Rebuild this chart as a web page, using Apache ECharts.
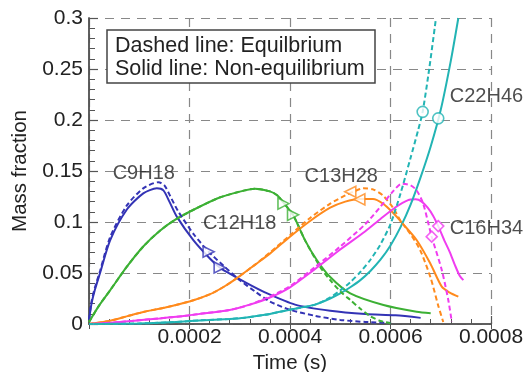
<!DOCTYPE html>
<html>
<head>
<meta charset="utf-8">
<script src="https://cdn.jsdelivr.net/npm/echarts@6/dist/echarts.min.js"></script>
<style>
  html, body {margin: 0; padding: 0; background: #fff;}
  #chart {width: 531px; height: 372px;}
</style>
</head>
<body>
<div id="chart"></div>
<script>
// time (s) vs mass fraction
const c9h18Solid = [[0, 0.004], [0.000005, 0.02], [0.000012, 0.034], [0.000022, 0.05], [0.000042, 0.082], [0.000075, 0.112], [0.000108, 0.128], [0.000135, 0.133], [0.000148, 0.131], [0.00016, 0.12], [0.000175, 0.105], [0.000208, 0.082], [0.000241, 0.064], [0.00026, 0.0554], [0.000274, 0.051], [0.000314, 0.04], [0.00035, 0.031], [0.00041, 0.019], [0.00048, 0.013], [0.00055, 0.0098], [0.00061, 0.0085], [0.00066, 0.006]];
const c9h18Dashed = [[0, 0.004], [0.000005, 0.022], [0.000012, 0.036], [0.000022, 0.052], [0.000042, 0.085], [0.000075, 0.116], [0.000108, 0.133], [0.000138, 0.139], [0.00015, 0.136], [0.000162, 0.125], [0.000178, 0.11], [0.00021, 0.087], [0.000238, 0.0709], [0.00027, 0.056], [0.0003, 0.043], [0.00033, 0.032], [0.00036, 0.022], [0.0004, 0.014], [0.00045, 0.008], [0.0005, 0.004], [0.00055, 0.002], [0.0006, 0.001]];

const c12h18Solid = [[0, 0.002], [0.00002, 0.018], [0.000042, 0.033], [0.000075, 0.056], [0.000108, 0.076], [0.00014, 0.091], [0.000171, 0.102], [0.000208, 0.112], [0.00026, 0.124], [0.00031, 0.131], [0.00033, 0.1325], [0.00036, 0.13], [0.000375, 0.126], [0.000387, 0.119], [0.000406, 0.107], [0.00043, 0.082], [0.000453, 0.063], [0.00048, 0.046], [0.00052, 0.03], [0.000586, 0.0186], [0.000652, 0.012], [0.00068, 0.0105]];
const c12h18Dashed = [[0, 0.002], [0.00002, 0.018], [0.000042, 0.033], [0.000075, 0.056], [0.000108, 0.076], [0.00014, 0.091], [0.000171, 0.102], [0.000208, 0.112], [0.00026, 0.124], [0.00031, 0.131], [0.00033, 0.1325], [0.00036, 0.13], [0.000375, 0.126], [0.000387, 0.119], [0.000406, 0.107], [0.00043, 0.082], [0.00046, 0.056], [0.00048, 0.043], [0.0005, 0.032], [0.00052, 0.0235], [0.00054, 0.015], [0.00056, 0.0075], [0.00058, 0.003], [0.0006, 0.0007]];

const c13h28Solid = [[0, 0], [0.00004, 0.003], [0.000075, 0.0075], [0.00011, 0.012], [0.00015, 0.016], [0.0002, 0.022], [0.00024, 0.029], [0.00027, 0.037], [0.0003, 0.047], [0.00033, 0.058], [0.00036, 0.069], [0.0004, 0.0856], [0.00044, 0.101], [0.00048, 0.114], [0.00051, 0.12], [0.000538, 0.1225], [0.000565, 0.1225], [0.000585, 0.118], [0.000605, 0.109], [0.000625, 0.098], [0.000652, 0.0823], [0.000679, 0.0595], [0.000702, 0.0366], [0.000718, 0.0307], [0.000735, 0.0268]];
const c13h28Dashed = [[0, 0], [0.00004, 0.003], [0.000075, 0.0075], [0.00011, 0.012], [0.00015, 0.016], [0.0002, 0.022], [0.00024, 0.029], [0.00027, 0.037], [0.0003, 0.047], [0.00033, 0.058], [0.00036, 0.07], [0.0004, 0.087], [0.00044, 0.104], [0.00048, 0.118], [0.00051, 0.126], [0.00053, 0.1305], [0.000546, 0.133], [0.000565, 0.132], [0.000585, 0.126], [0.000605, 0.114], [0.000619, 0.102], [0.00064, 0.088], [0.000659, 0.0725], [0.00068, 0.045], [0.000695, 0.018], [0.000705, 0.002]];

const c16h34Solid = [[0, 0], [0.00005, 0.0015], [0.00009, 0.0033], [0.00014, 0.0055], [0.000192, 0.008], [0.00023, 0.0105], [0.00028, 0.0137], [0.00032, 0.019], [0.00036, 0.026], [0.0004, 0.036], [0.00045, 0.054], [0.0005, 0.073], [0.00055, 0.091], [0.00058, 0.103], [0.00061, 0.1145], [0.000635, 0.1215], [0.00065, 0.1222], [0.000662, 0.12], [0.000674, 0.114], [0.000685, 0.106], [0.000695, 0.096], [0.000708, 0.081], [0.000718, 0.0705], [0.000728, 0.058], [0.000738, 0.047], [0.000745, 0.043]];
const c16h34Dashed = [[0, 0], [0.00005, 0.0015], [0.00009, 0.0033], [0.00014, 0.0055], [0.000192, 0.008], [0.00023, 0.0105], [0.00028, 0.0137], [0.00032, 0.019], [0.00036, 0.027], [0.0004, 0.037], [0.00045, 0.056], [0.0005, 0.076], [0.00055, 0.098], [0.00058, 0.115], [0.000605, 0.13], [0.000622, 0.1375], [0.00064, 0.136], [0.000652, 0.131], [0.000665, 0.118], [0.000682, 0.0856], [0.000702, 0.053], [0.000715, 0.0235], [0.000722, 0.002]];

const c22h46Solid = [[0, 0], [0.0001, 0.0005], [0.00016, 0.0016], [0.00022, 0.0035], [0.00028, 0.005], [0.00031, 0.0062], [0.00035, 0.009], [0.00038, 0.012], [0.00041, 0.015], [0.00045, 0.019], [0.00048, 0.025], [0.0005, 0.03], [0.00052, 0.036], [0.00054, 0.043], [0.00056, 0.052], [0.00058, 0.063], [0.0006, 0.077], [0.00062, 0.095], [0.00064, 0.117], [0.00066, 0.144], [0.00068, 0.174], [0.0007, 0.21], [0.00072, 0.258], [0.000735, 0.3]];
const c22h46Dashed = [[0, 0], [0.0001, 0.0005], [0.00016, 0.0016], [0.00022, 0.0035], [0.00028, 0.005], [0.00031, 0.0062], [0.00035, 0.009], [0.00038, 0.012], [0.00041, 0.015], [0.00045, 0.019], [0.00048, 0.026], [0.0005, 0.033], [0.00052, 0.041], [0.00054, 0.051], [0.00056, 0.063], [0.00058, 0.078], [0.0006, 0.098], [0.00062, 0.128], [0.00064, 0.163], [0.000655, 0.19], [0.000664, 0.208], [0.000677, 0.25], [0.00069, 0.298]];

// open symbols drawn on each curve: [solid, dashed]
const c9h18Marks = [[0.00026, 0.0554], [0.000238, 0.0709]];
const c12h18Marks = [[0.000406, 0.107], [0.000387, 0.118]];
const c13h28Marks = [[0.000538, 0.1222], [0.00052, 0.1297]];
const c16h34Marks = [[0.000695, 0.096], [0.000682, 0.0856]];
const c22h46Marks = [[0.000695, 0.2016], [0.000664, 0.208]];

const speciesNames = ['C9H18', 'C12H18', 'C13H28', 'C16H34', 'C22H46'];
const labelAnchors = [[0.000109, 0.148], [0.0003, 0.099], [0.000502, 0.145], [0.000791, 0.094], [0.000791, 0.2235]];
const xTicks = [0, 0.0002, 0.0004, 0.0006, 0.0008];
const yTicks = [0, 0.05, 0.1, 0.15, 0.2, 0.25, 0.3];

const colors = ['#3333b5', '#3cb034', '#ff8a1c', '#f03cf0', '#22b4b4'];
const symbols = [
  {symbol: 'triangle', rotate: -90},
  {symbol: 'triangle', rotate: -90},
  {symbol: 'triangle', rotate: 90},
  {symbol: 'diamond', rotate: 0},
  {symbol: 'circle', rotate: 0}
];
const solids = [c9h18Solid, c12h18Solid, c13h28Solid, c16h34Solid, c22h46Solid];
const dashes = [c9h18Dashed, c12h18Dashed, c13h28Dashed, c16h34Dashed, c22h46Dashed];
const marks = [c9h18Marks, c12h18Marks, c13h28Marks, c16h34Marks, c22h46Marks];

const font = '"Liberation Sans", Arial, sans-serif';
const textColor = '#222';

const series = [];
speciesNames.forEach((name, i) => {
  series.push({
    name: name + ' non-eq', type: 'line', data: solids[i],
    symbol: 'none', smooth: 0.25,
    lineStyle: {color: colors[i], width: 2}, z: 3
  });
  series.push({
    name: name + ' eq', type: 'line', data: dashes[i],
    symbol: 'none', smooth: 0.25,
    lineStyle: {color: colors[i], width: 2, type: [5, 3]}, z: 4
  });
  series.push({
    type: 'scatter', data: marks[i],
    symbol: symbols[i].symbol, symbolRotate: symbols[i].rotate, symbolSize: 11,
    itemStyle: {color: '#fff', borderColor: colors[i], borderWidth: 1.6}, z: 5
  });
});
series.push({
  type: 'scatter', symbolSize: 0, z: 6, clip: false, silent: true,
  data: speciesNames.map((n, i) => ({name: n, value: labelAnchors[i]})),
  label: {
    show: true, position: 'inside', formatter: p => p.name,
    fontFamily: font, fontSize: 20, color: textColor
  }
});

const chart = echarts.init(document.getElementById('chart'));
chart.setOption({
  animation: false,
  backgroundColor: '#fff',
  grid: {left: 89, right: 40, top: 18, bottom: 48, containLabel: false, outerBoundsMode: 'none'},
  xAxis: [{
    type: 'value', min: xTicks[0], max: xTicks[xTicks.length - 1], interval: 0.0002,
    name: 'Time (s)', nameLocation: 'middle', nameGap: 27,
    nameTextStyle: {fontFamily: font, fontSize: 20.5, color: textColor},
    axisLine: {lineStyle: {color: '#555', width: 1.5}},
    axisTick: {inside: true, length: 8, lineStyle: {color: '#555', width: 1.2}},
    minorTick: {show: true, splitNumber: 5, length: 5, lineStyle: {color: '#555', width: 1}},
    axisLabel: {
      fontFamily: font, fontSize: 21, color: textColor, margin: 3,
      formatter: v => v === 0 ? '' : v.toFixed(4)
    },
    splitLine: {show: true, lineStyle: {color: '#888', width: 1.2, type: [9, 7]}}
  }, {
    type: 'value', position: 'top', min: xTicks[0], max: xTicks[xTicks.length - 1], interval: 0.0002,
    axisLine: {show: true, lineStyle: {color: '#555', width: 1.5}},
    axisTick: {show: true, inside: true, length: 5, lineStyle: {color: '#555'}},
    axisLabel: {show: false}, splitLine: {show: false}
  }],
  yAxis: [{
    type: 'value', min: yTicks[0], max: yTicks[yTicks.length - 1], interval: 0.05,
    name: 'Mass fraction', nameLocation: 'middle', nameGap: 52,
    nameTextStyle: {fontFamily: font, fontSize: 20.5, color: textColor},
    axisLine: {show: true, lineStyle: {color: '#555', width: 1.5}},
    axisTick: {show: true, inside: true, length: 9, lineStyle: {color: '#555', width: 1.2}},
    minorTick: {show: true, splitNumber: 5, length: 6, lineStyle: {color: '#555', width: 1}},
    axisLabel: {
      fontFamily: font, fontSize: 21, color: textColor, margin: 6,
      formatter: v => String(+v.toFixed(2))
    },
    splitLine: {show: true, lineStyle: {color: '#888', width: 1.2, type: [9, 7]}}
  }, {
    type: 'value', position: 'right', min: yTicks[0], max: yTicks[yTicks.length - 1], interval: 0.05,
    axisLine: {show: true, lineStyle: {color: '#555', width: 1.5}},
    axisTick: {show: false}, axisLabel: {show: false}, splitLine: {show: false}
  }],
  graphic: [{
    type: 'rect', z: 10,
    shape: {x: 107, y: 30, width: 268, height: 53},
    style: {fill: '#fff', stroke: '#444', lineWidth: 1.5}
  }, {
    type: 'text', z: 11, left: 115, top: 35,
    style: {text: 'Dashed line: Equilbrium', font: '21.5px ' + font, fill: textColor}
  }, {
    type: 'text', z: 11, left: 115, top: 58,
    style: {text: 'Solid line: Non-equilibrium', font: '21.5px ' + font, fill: textColor}
  }],
  series: series
});
</script>
</body>
</html>
